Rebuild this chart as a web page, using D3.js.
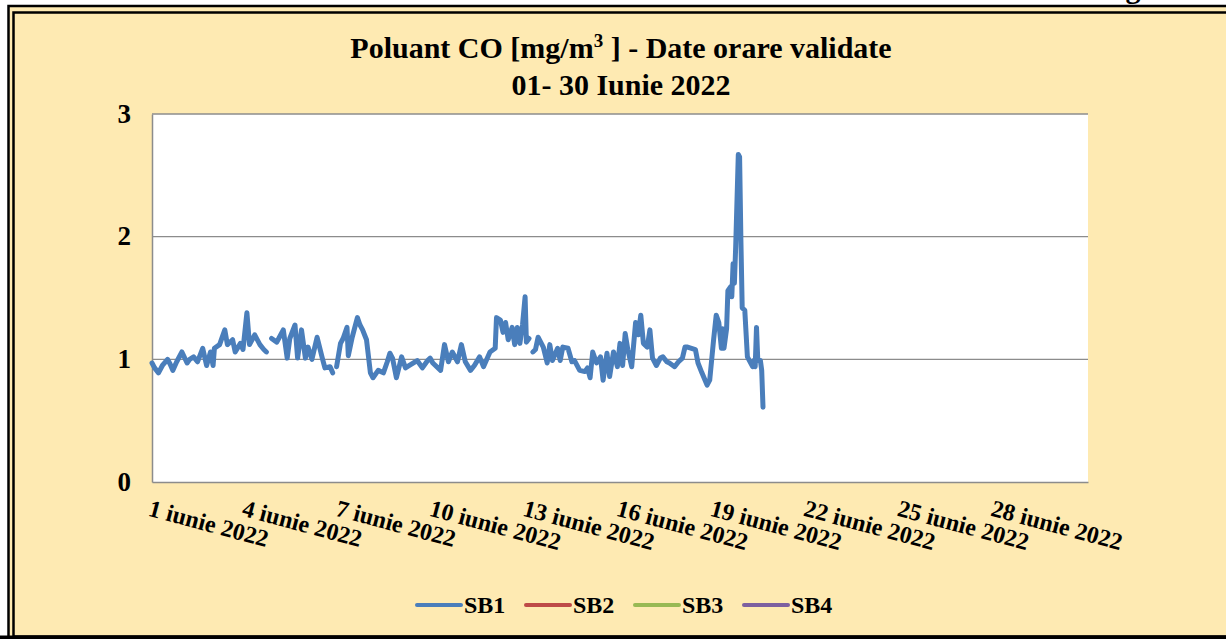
<!DOCTYPE html>
<html>
<head>
<meta charset="utf-8">
<script src="https://cdn.jsdelivr.net/npm/d3@7"></script>
<style>
  body { margin: 0; background: #fff; }
  text { font-family: "Liberation Serif", "Times New Roman", serif; font-weight: bold; fill: #000; }
</style>
</head>
<body>
<div id="chart"></div>
<script>
// series names / colours for the legend
var seriesNames = ["SB1", "SB2", "SB3", "SB4"];
var seriesColors = ["#4A7EBB", "#BE4B48", "#98B954", "#7D60A0"];

// SB1 readings: hour offset from 1 June 2022 00:00 and value (null = missing)
var sb1Hours = [0, 2, 5, 8, 12, 14, 16, 19, 23, 27, 29, 32, 35, 39, 42, 45, 47, 48, 52, 56,
  58, 62, 64, 68, 70, 73, 75, 79, 83, 86, 88, 89, 92, 96, 98, 101, 104, 106, 110, 112,
  115, 118, 120, 123, 127, 131, 133, 137, 139, 140, 142, 145, 147, 150, 151, 154, 158, 160, 162, 165,
  168, 170, 174, 178, 181, 183, 185, 188, 192, 195, 198, 204, 208, 212, 214, 216, 222, 225, 228, 231,
  235, 238, 241, 245, 248, 252, 255, 260, 264, 265, 268, 270, 272, 274, 277, 279, 281, 283, 285, 287,
  288, 290, 291, 293, 295, 297, 301, 304, 306, 308, 312, 314, 316, 320, 323, 325, 329, 333, 335, 337,
  339, 342, 345, 347, 350, 352, 355, 358, 360, 362, 364, 366, 369, 372, 374, 376, 378, 381, 383, 385,
  388, 391, 393, 396, 398, 402, 405, 408, 410, 412, 415, 418, 420, 423, 427, 429, 432, 434, 436, 438,
  439, 440, 442, 443, 445, 446, 447, 448, 449, 451, 452, 453, 454, 456, 458, 462, 463, 464, 465, 466,
  468, 469, 470];
var sb1Values = [0.97, 0.93, 0.89, 0.95, 1.00, 0.96, 0.91, 0.98, 1.06, 0.97, 1.00, 1.02, 0.98, 1.09, 0.95, 1.06, 0.95, 1.09, 1.12, 1.24,
  1.12, 1.16, 1.06, 1.13, 1.08, 1.38, 1.12, 1.20, 1.12, 1.08, 1.06, null, 1.17, 1.14, 1.18, 1.24, 1.01, 1.17, 1.28, 1.01,
  1.24, 1.01, 1.10, 1.00, 1.18, 1.01, 0.93, 0.94, 0.89, null, 0.94, 1.13, 1.17, 1.26, 1.03, 1.18, 1.34, 1.28, 1.24, 1.16,
  0.89, 0.85, 0.91, 0.89, 0.98, 1.05, 1.01, 0.85, 1.02, 0.93, 0.95, 0.99, 0.93, 0.99, 1.01, 0.97, 0.91, 1.12, 0.98, 1.06,
  0.98, 1.12, 0.98, 0.91, 0.95, 1.02, 0.94, 1.06, 1.09, 1.34, 1.32, 1.22, 1.30, 1.16, 1.26, 1.12, 1.26, 1.13, 1.28, 1.51,
  1.14, 1.17, null, 1.06, 1.08, 1.18, 1.10, 0.97, 1.12, 0.99, 1.09, 0.99, 1.10, 1.09, 0.98, 0.99, 0.91, 0.90, 0.93, 0.85,
  1.06, 0.97, 1.02, 0.83, 1.05, 0.86, 1.06, 0.94, 1.13, 0.95, 1.21, 1.08, 0.94, 1.30, 1.20, 1.36, 1.13, 1.10, 1.24, 1.01,
  0.95, 1.01, 1.02, 0.98, 0.97, 0.94, 0.98, 1.01, 1.10, 1.10, 1.09, 1.08, 0.97, 0.89, 0.79, 0.83, 1.16, 1.36, 1.30, 1.09,
  1.25, 1.09, 1.25, 1.56, 1.59, 1.51, 1.78, 1.62, 1.92, 2.67, 2.65, 1.97, 1.42, 1.40, 1.02, 0.94, 0.99, 0.94, 1.26, 0.99,
  0.99, 0.91, 0.61];
// SB2..SB4 have no validated data this month
var sb2Values = [], sb3Values = [], sb4Values = [];

var yTicks = [0, 1, 2, 3];
var tickDays = [1, 4, 7, 10, 13, 16, 19, 22, 25, 28];

var W = 1226, H = 639;
var margin = {top: 114, left: 152, right: 138, bottom: 157};
var start = new Date(2022, 5, 1), end = new Date(2022, 6, 1);

var svg = d3.select("#chart").append("svg")
    .attr("width", W)
    .attr("height", H);

// chart frame (double border on beige)
svg.append("rect").attr("x", 8.5).attr("y", 6).attr("width", W + 10).attr("height", H + 10)
    .attr("fill", "#FEEAB2").attr("stroke", "#000").attr("stroke-width", 2.5);
svg.append("rect").attr("x", 13.5).attr("y", 12.5).attr("width", W + 10).attr("height", H - 15)
    .attr("fill", "none").attr("stroke", "#000").attr("stroke-width", 2.5);
svg.append("line").attr("x1", 0).attr("x2", W).attr("y1", 637.5).attr("y2", 637.5)
    .attr("stroke", "#000").attr("stroke-width", 4);

// letter from the page text above the frame, only its tail shows
svg.append("text").attr("x", 1133).attr("y", -2)
    .attr("text-anchor", "middle").style("font-size", "30px").text("g");

var x = d3.scaleTime().domain([start, end]).range([margin.left, W - margin.right]);
var y = d3.scaleLinear().domain([0, 3]).range([H - margin.bottom, margin.top]);

// plot area
svg.append("rect")
    .attr("x", x.range()[0]).attr("y", y(3))
    .attr("width", x.range()[1] - x.range()[0]).attr("height", y(0) - y(3))
    .attr("fill", "#fff");

// gridlines
svg.append("g").selectAll("line")
    .data(yTicks.filter(d => d > 0)).enter()
    .append("line")
    .attr("x1", x.range()[0]).attr("x2", x.range()[1])
    .attr("y1", d => y(d)).attr("y2", d => y(d))
    .attr("stroke", "#8C8C8C").attr("stroke-width", 1.3);

// y axis
var yAxis = svg.append("g")
    .attr("transform", `translate(${margin.left}, 0)`)
    .call(d3.axisLeft(y).tickValues(yTicks).tickSize(0).tickPadding(21).tickFormat(d3.format("d")));
yAxis.select(".domain").attr("stroke", "#8C8C8C").attr("stroke-width", 1.5);
yAxis.selectAll("text").style("font-size", "27px").style("font-family", "Liberation Serif").attr("dy", "0.3em");

// x axis
var xAxis = svg.append("g")
    .attr("transform", `translate(0, ${y(0)})`)
    .call(d3.axisBottom(x).tickValues(tickDays.map(d => new Date(2022, 5, d)))
        .tickSize(0).tickFormat(d3.timeFormat("%-d iunie %Y")));
xAxis.select(".domain").attr("stroke", "#8C8C8C").attr("stroke-width", 1.5);
xAxis.selectAll(".tick text")
    .style("font-size", "24px").style("font-family", "Liberation Serif")
    .attr("text-anchor", "start")
    .attr("y", 0).attr("dy", 0)
    .attr("transform", "translate(-1, 18) rotate(15) translate(0, 16)");

// series line
var sb1 = sb1Hours.map((h, i) => ({t: d3.timeHour.offset(start, h), v: sb1Values[i]}));
var line = d3.line()
    .defined(d => d.v != null)
    .x(d => x(d.t))
    .y(d => y(d.v));

svg.append("path")
    .datum(sb1)
    .attr("d", line)
    .attr("fill", "none")
    .attr("stroke", seriesColors[0])
    .attr("stroke-width", 5)
    .attr("stroke-linejoin", "round")
    .attr("stroke-linecap", "round");

// title
var title = svg.append("text")
    .attr("x", 621).attr("y", 58)
    .attr("text-anchor", "middle")
    .style("font-size", "30px");
title.append("tspan").text("Poluant CO [mg/m");
title.append("tspan").attr("dy", -11).style("font-size", "19px").text("3");
title.append("tspan").attr("dy", 11).text(" ] - Date orare validate");
svg.append("text")
    .attr("x", 621).attr("y", 95)
    .attr("text-anchor", "middle")
    .style("font-size", "30px")
    .text("01- 30 Iunie 2022");

// legend
var legend = svg.append("g").selectAll("g")
    .data(seriesNames).enter()
    .append("g")
    .attr("transform", (d, i) => `translate(${417 + i * 109}, 605)`);
legend.append("line")
    .attr("x1", 0).attr("x2", 44)
    .attr("stroke", (d, i) => seriesColors[i])
    .attr("stroke-width", 4).attr("stroke-linecap", "round");
legend.append("text")
    .attr("x", 47).attr("y", 8)
    .style("font-size", "24px")
    .text(d => d);
</script>
</body>
</html>
